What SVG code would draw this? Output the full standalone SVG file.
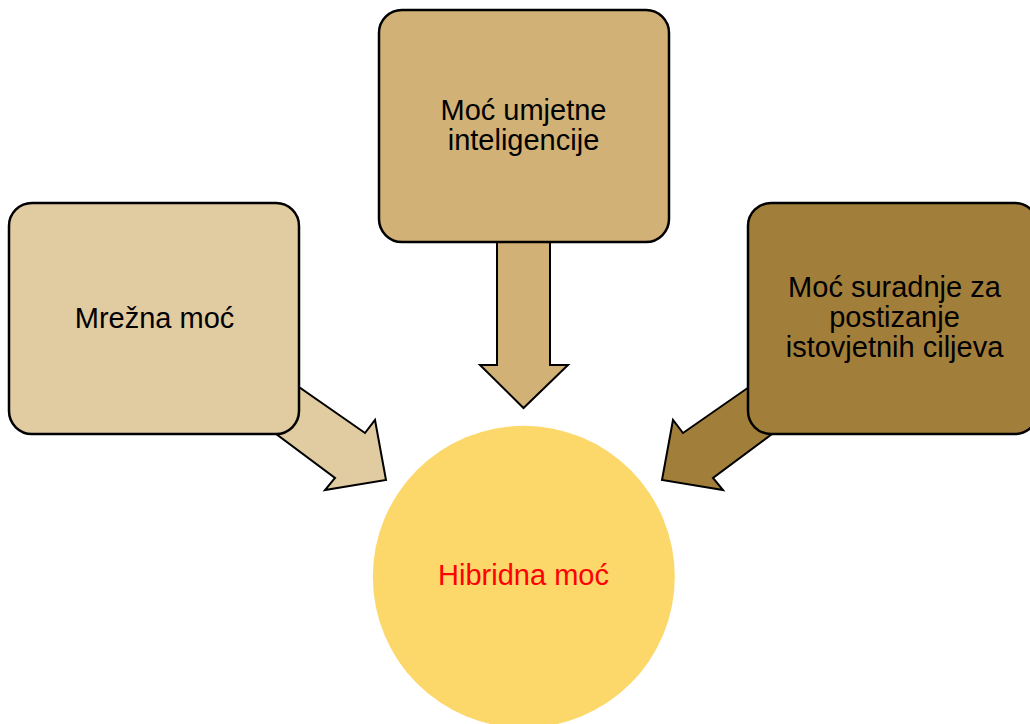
<svg xmlns="http://www.w3.org/2000/svg" width="1030" height="724" viewBox="0 0 1030 724">
<style>
.box{stroke:#000;stroke-width:2.5}
.arr{stroke:#000;stroke-width:2;stroke-linejoin:miter}
.t{font-family:"Liberation Sans",Arial,sans-serif;font-size:29px;text-anchor:middle;fill:#000}
</style>
<rect width="1030" height="724" fill="#fff"/>
<g id="connectors">
<polygon class="arr" fill="#E1CBA1" points="240,346 365,433 375,420 386,480 325,490 335,478 217,390"/>
<polygon class="arr" fill="#D1B175" points="497,230 550,230 550,365 568,365 523.5,408 480,365 497,365"/>
<polygon class="arr" fill="#A27E3B" points="808,346 683,433 673,420 662,480 723,490 713,478 831,390"/>
</g>
<g id="node-mrezna">
<rect class="box" x="9" y="203" width="290" height="231" rx="23" fill="#E1CBA1"/>
<text class="t" x="154.5" y="328">Mrežna moć</text>
</g>
<g id="node-umjetna">
<rect class="box" x="379" y="10" width="290" height="232" rx="23" fill="#D1B175"/>
<text class="t" x="523.5" y="119.5">Moć umjetne</text>
<text class="t" x="523.5" y="149.5">inteligencije</text>
</g>
<g id="node-suradnja">
<rect class="box" x="748" y="203" width="290" height="231" rx="23" fill="#A27E3B"/>
<text class="t" x="894.5" y="296.5">Moć suradnje za</text>
<text class="t" x="894.5" y="326.5">postizanje</text>
<text class="t" x="894.5" y="356.5">istovjetnih ciljeva</text>
</g>
<g id="node-hibridna">
<circle cx="523.8" cy="576.8" r="151" fill="#FCD769"/>
<text class="t" x="523.5" y="585" style="fill:#FF0000">Hibridna moć</text>
</g>
</svg>
